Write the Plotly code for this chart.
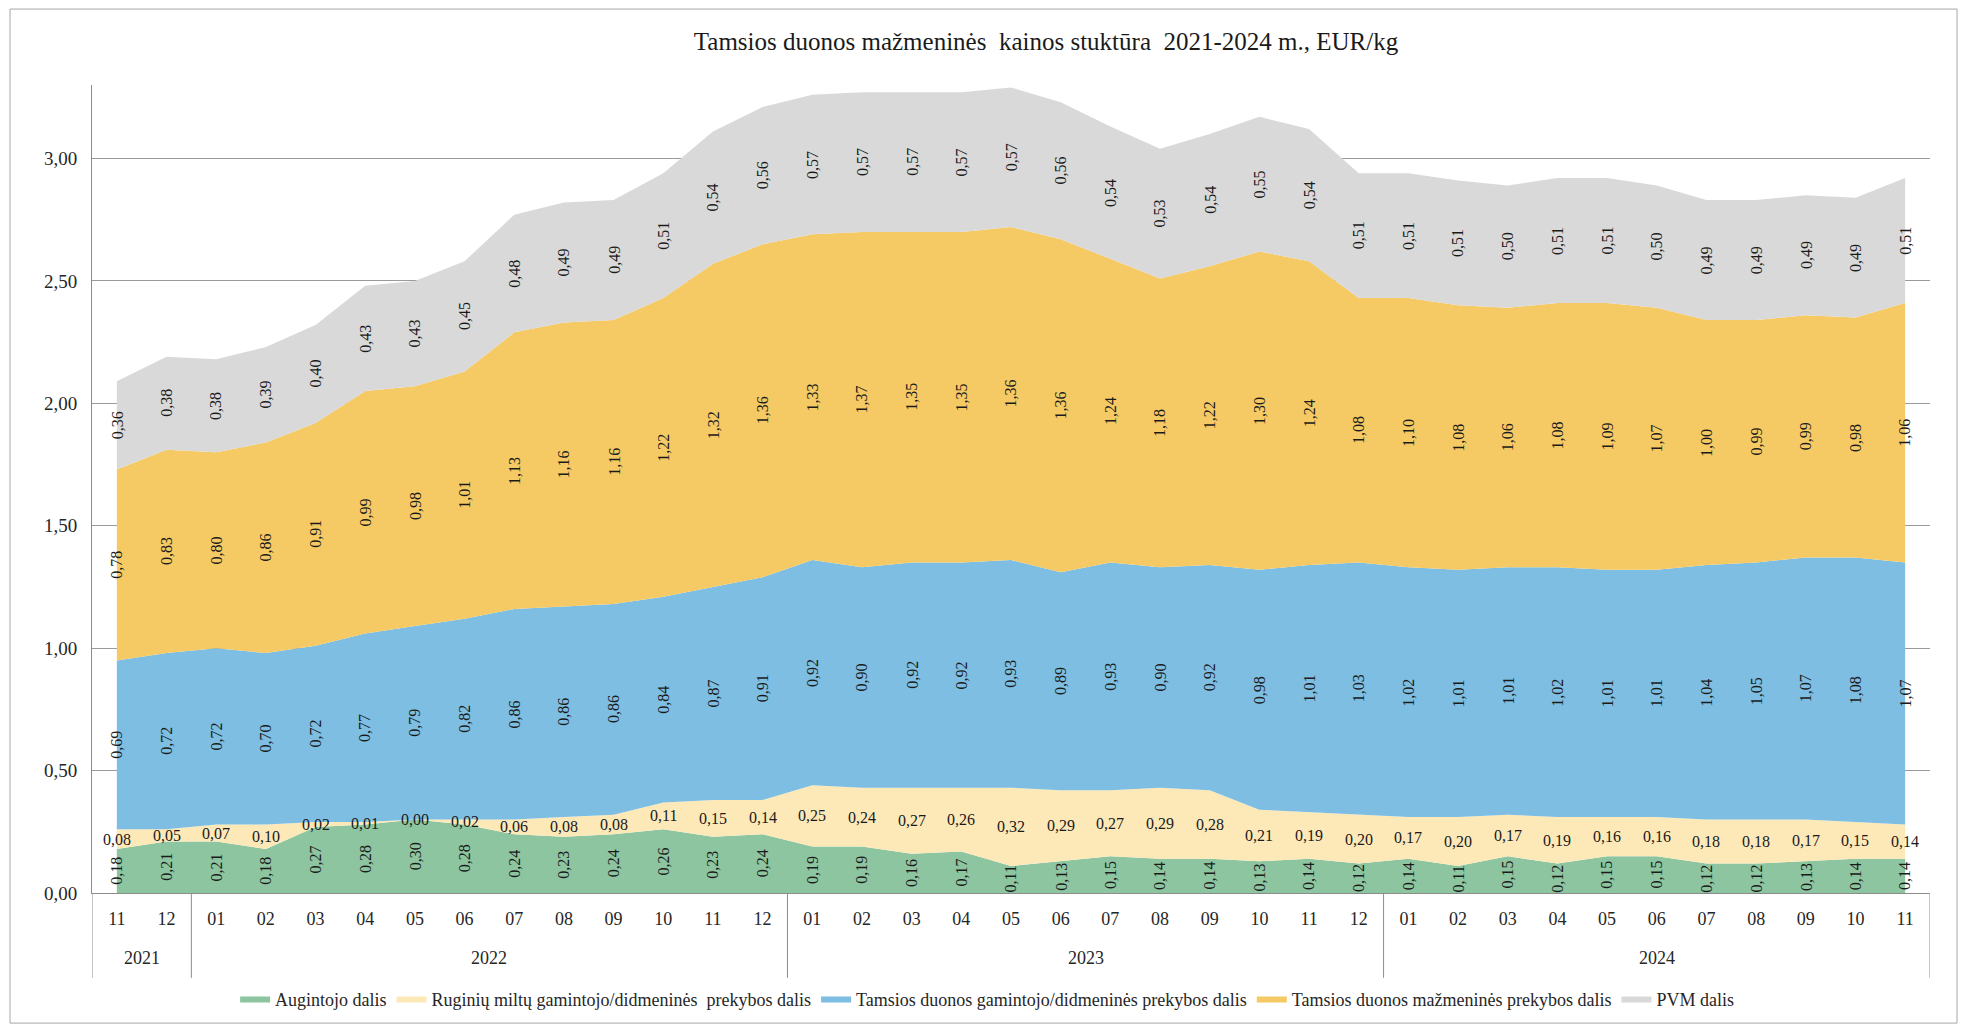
import plotly.graph_objects as go

# kategorijos (metai / mėnuo)
years = ['2021'] * 2 + ['2022'] * 12 + ['2023'] * 12 + ['2024'] * 11
months = ['11', '12',
          '01', '02', '03', '04', '05', '06', '07', '08', '09', '10', '11', '12',
          '01', '02', '03', '04', '05', '06', '07', '08', '09', '10', '11', '12',
          '01', '02', '03', '04', '05', '06', '07', '08', '09', '10', '11']

augintojo = [0.18, 0.21,
             0.21, 0.18, 0.27, 0.28, 0.30, 0.28, 0.24, 0.23, 0.24, 0.26, 0.23, 0.24,
             0.19, 0.19, 0.16, 0.17, 0.11, 0.13, 0.15, 0.14, 0.14, 0.13, 0.14, 0.12,
             0.14, 0.11, 0.15, 0.12, 0.15, 0.15, 0.12, 0.12, 0.13, 0.14, 0.14]
miltu = [0.08, 0.05,
         0.07, 0.10, 0.02, 0.01, 0.00, 0.02, 0.06, 0.08, 0.08, 0.11, 0.15, 0.14,
         0.25, 0.24, 0.27, 0.26, 0.32, 0.29, 0.27, 0.29, 0.28, 0.21, 0.19, 0.20,
         0.17, 0.20, 0.17, 0.19, 0.16, 0.16, 0.18, 0.18, 0.17, 0.15, 0.14]
gamintojo = [0.69, 0.72,
             0.72, 0.70, 0.72, 0.77, 0.79, 0.82, 0.86, 0.86, 0.86, 0.84, 0.87, 0.91,
             0.92, 0.90, 0.92, 0.92, 0.93, 0.89, 0.93, 0.90, 0.92, 0.98, 1.01, 1.03,
             1.02, 1.01, 1.01, 1.02, 1.01, 1.01, 1.04, 1.05, 1.07, 1.08, 1.07]
mazmenines = [0.78, 0.83,
              0.80, 0.86, 0.91, 0.99, 0.98, 1.01, 1.13, 1.16, 1.16, 1.22, 1.32, 1.36,
              1.33, 1.37, 1.35, 1.35, 1.36, 1.36, 1.24, 1.18, 1.22, 1.30, 1.24, 1.08,
              1.10, 1.08, 1.06, 1.08, 1.09, 1.07, 1.00, 0.99, 0.99, 0.98, 1.06]
pvm = [0.36, 0.38,
       0.38, 0.39, 0.40, 0.43, 0.43, 0.45, 0.48, 0.49, 0.49, 0.51, 0.54, 0.56,
       0.57, 0.57, 0.57, 0.57, 0.57, 0.56, 0.54, 0.53, 0.54, 0.55, 0.54, 0.51,
       0.51, 0.51, 0.50, 0.51, 0.51, 0.50, 0.49, 0.49, 0.49, 0.49, 0.51]

series = [
    ('Augintojo dalis', augintojo, '#8cc5a0', -90),
    ('Ruginių miltų gamintojo/didmeninės  prekybos dalis', miltu, '#fde9b8', 0),
    ('Tamsios duonos gamintojo/didmeninės prekybos dalis', gamintojo, '#7dbee2', -90),
    ('Tamsios duonos mažmeninės prekybos dalis', mazmenines, '#f5ca64', -90),
    ('PVM dalis', pvm, '#d9d9d9', -90),
]

FONT = 'Liberation Serif'
LINE = '#8c8c8c'
TXT = '#262626'
pos = list(range(len(months)))

fig = go.Figure()
annotations = []
bottom = [0.0] * len(months)
for name, vals, color, angle in series:
    fig.add_trace(go.Scatter(
        x=pos, y=vals, name=name,
        mode='lines', stackgroup='one',
        line=dict(width=0, color=color), fillcolor=color,
    ))
    # duomenų žymės - juostos viduryje
    for i, v in enumerate(vals):
        annotations.append(dict(
            x=i, y=bottom[i] + v / 2, xref='x', yref='y',
            text=f'{v:.2f}'.replace('.', ','), showarrow=False,
            textangle=angle, font=dict(family=FONT, size=16, color='#1a1a1a'),
        ))
        bottom[i] += v

# metų eilutė ir skirtukai po ašimi
DIV_Y = -0.105
shapes = []
start = 0
for i in range(1, len(years) + 1):
    if i == len(years) or years[i] != years[start]:
        annotations.append(dict(
            x=(start + i - 1) / 2, y=-0.081, xref='x', yref='paper',
            text=years[start], showarrow=False, yanchor='middle',
            font=dict(family=FONT, size=18, color=TXT),
        ))
        shapes.append(dict(type='line', xref='x', yref='paper',
                           x0=start - 0.5, x1=start - 0.5, y0=0, y1=DIV_Y,
                           line=dict(color=LINE, width=1)))
        start = i
shapes.append(dict(type='line', xref='x', yref='paper',
                   x0=len(years) - 0.5, x1=len(years) - 0.5, y0=0, y1=DIV_Y,
                   line=dict(color=LINE, width=1)))
# rėmelis aplink visą diagramą
shapes.append(dict(type='rect', xref='paper', yref='paper',
                   x0=-0.0446, x1=1.0147, y0=-0.161, y1=1.094,
                   line=dict(color='#a6a6a6', width=1), layer='below'))

fig.update_layout(
    width=1950, height=1016,
    paper_bgcolor='white', plot_bgcolor='white',
    margin=dict(l=84, r=28, t=77, b=131, autoexpand=False),
    separators=', ',
    font=dict(family=FONT, size=18, color=TXT),
    title=dict(text='Tamsios duonos mažmeninės  kainos stuktūra  2021-2024 m., EUR/kg',
               x=0.5323, xanchor='center', y=0.9675, yanchor='middle',
               font=dict(family=FONT, size=25, color='#1a1a1a')),
    xaxis=dict(range=[-0.5, len(months) - 0.5], showgrid=False, zeroline=False,
               tickmode='array', tickvals=pos, ticktext=months,
               showline=True, linecolor=LINE, linewidth=1,
               ticks='', ticklabelstandoff=9,
               tickfont=dict(family=FONT, size=18, color=TXT)),
    yaxis=dict(range=[0, 3.3], dtick=0.5, tickformat='.2f',
               showgrid=True, gridcolor='#9a9a9a', gridwidth=1,
               showline=True, linecolor=LINE, linewidth=1,
               ticks='', ticklabelstandoff=10,
               zeroline=False, tickfont=dict(family=FONT, size=19, color=TXT)),
    legend=dict(orientation='h', x=0.487, xanchor='center', y=-0.131, yanchor='middle',
                font=dict(family=FONT, size=18, color=TXT),
                itemwidth=30, traceorder='normal'),
    annotations=annotations,
    shapes=shapes,
)

fig.write_html('out.html')
